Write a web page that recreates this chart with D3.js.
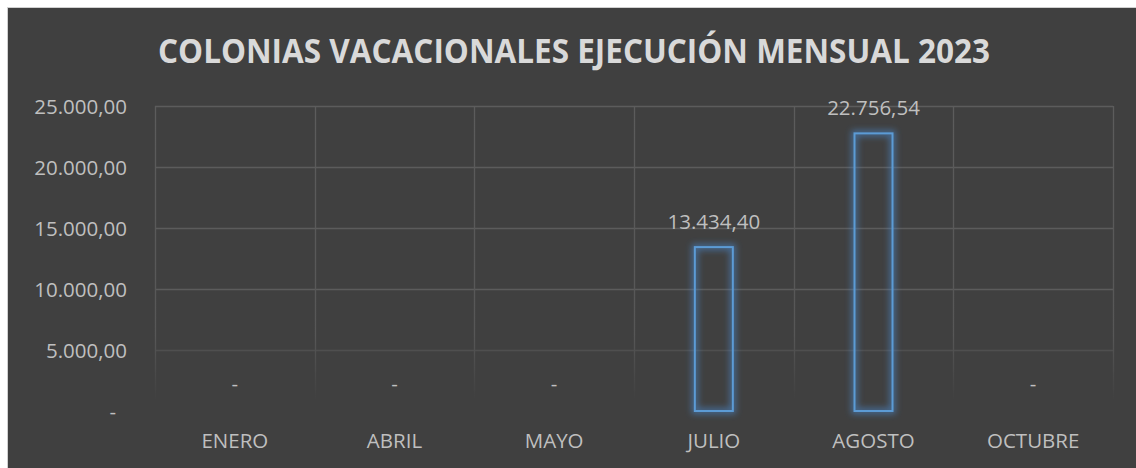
<!DOCTYPE html>
<html>
<head>
<meta charset="utf-8">
<script src="https://cdn.jsdelivr.net/npm/d3@7"></script>
<style>
  body { margin: 0; background: #ffffff; }
  svg { display: block; }
</style>
</head>
<body>
<div id="chart"></div>
<script>
// data
var months = ["ENERO", "ABRIL", "MAYO", "JULIO", "AGOSTO", "OCTUBRE"];
var amounts = [0, 0, 0, 13434.40, 22756.54, 0];
var yTicks = [0, 5000, 10000, 15000, 20000, 25000];
var title = "COLONIAS VACACIONALES EJECUCIÓN MENSUAL 2023";

var w = 1136, h = 468;
var plotL = 155, plotR = 1113, plotT = 106, plotB = 411;
var fontSize = "20.5px";

var svg = d3.select("#chart").append("svg")
    .attr("width", w)
    .attr("height", h);

var defs = svg.append("defs");
// soft blue glow round the bar outlines
var glow = defs.append("filter").attr("id", "glow")
    .attr("x", "-60%").attr("y", "-20%").attr("width", "220%").attr("height", "140%");
glow.append("feMorphology").attr("in", "SourceAlpha").attr("operator", "dilate").attr("radius", 2).attr("result", "fat");
glow.append("feGaussianBlur").attr("in", "fat").attr("stdDeviation", 3).attr("result", "blur");
glow.append("feFlood").attr("flood-color", "#4a8ad0").attr("flood-opacity", 0.6).attr("result", "col");
glow.append("feComposite").attr("in", "col").attr("in2", "blur").attr("operator", "in").attr("result", "soft");
var merge = glow.append("feMerge");
merge.append("feMergeNode").attr("in", "soft");
merge.append("feMergeNode").attr("in", "SourceGraphic");

var fade = defs.append("linearGradient").attr("id", "fade")
    .attr("gradientUnits", "userSpaceOnUse")
    .attr("x1", 0).attr("y1", plotT).attr("x2", 0).attr("y2", 400);
fade.append("stop").attr("offset", "0").attr("stop-color", "#5c5c5c");
fade.append("stop").attr("offset", "0.78").attr("stop-color", "#575757");
fade.append("stop").attr("offset", "1").attr("stop-color", "#404040");

// background
svg.append("rect")
    .attr("x", 7.5).attr("y", 7.5)
    .attr("width", w - 7).attr("height", h - 7)
    .attr("fill", "#404040")
    .attr("stroke", "#d0d0d0")
    .attr("stroke-width", 1);

var x = d3.scaleBand().domain(months).range([plotL, plotR]).paddingInner(0).paddingOuter(0);
var y = d3.scaleLinear().domain([0, 25000]).range([plotB, plotT]);

var fmt = function(v) {
    if (v === 0) return "-";
    var s = v.toFixed(2).split(".");
    return s[0].replace(/\B(?=(\d{3})+(?!\d))/g, ".") + "," + s[1];
};

// horizontal grid lines
svg.append("g").selectAll("line")
    .data(yTicks.filter(function(d) { return d > 0; }))
    .enter().append("line")
    .attr("x1", plotL).attr("x2", plotR)
    .attr("y1", function(d) { return Math.round(y(d)) + 0.5; })
    .attr("y2", function(d) { return Math.round(y(d)) + 0.5; })
    .attr("stroke", function(d) { return d === 5000 ? "#4f4f4f" : "#5c5c5c"; })
    .attr("stroke-width", 1.3);

// vertical grid lines (fade toward the bottom)
var edges = months.map(function(m) { return x(m); }).concat([plotR]);
svg.append("g").selectAll("line")
    .data(edges)
    .enter().append("line")
    .attr("x1", function(d) { return Math.round(d) + 0.5; })
    .attr("x2", function(d) { return Math.round(d) + 0.5; })
    .attr("y1", plotT).attr("y2", 400)
    .attr("stroke", "url(#fade)")
    .attr("stroke-width", 1.3);

// y axis labels
var yAxis = d3.axisLeft(y).tickValues(yTicks).tickSize(0).tickPadding(0).tickFormat(fmt);
var ya = svg.append("g").attr("transform", "translate(127,0)").call(yAxis);
ya.select(".domain").remove();
ya.selectAll("text")
    .attr("fill", "#bfbfbf")
    .style("font-family", "'Open Sans', sans-serif")
    .style("font-size", fontSize)
    .attr("dy", "0.36em")
    .attr("x", function(d) { return d === 0 ? -11 : 0; });

// x axis labels
var xAxis = d3.axisBottom(x).tickSize(0).tickPadding(0);
var xa = svg.append("g").attr("transform", "translate(0,448)").call(xAxis);
xa.select(".domain").remove();
xa.selectAll("text")
    .attr("fill", "#bfbfbf")
    .attr("dy", 0)
    .style("font-family", "'Open Sans', sans-serif")
    .style("font-size", fontSize);

// bars
var bw = 40;
svg.append("g").selectAll("rect")
    .data(amounts.map(function(v, i) { return {m: months[i], v: v}; }).filter(function(d) { return d.v > 0; }))
    .enter().append("rect")
    .attr("x", function(d) { return x(d.m) + x.bandwidth() / 2 - bw / 2 + 1; })
    .attr("y", function(d) { return y(d.v); })
    .attr("width", bw - 2)
    .attr("height", function(d) { return y(0) - y(d.v); })
    .attr("fill", "none")
    .attr("stroke", "#5b9bd5")
    .attr("stroke-width", 2)
    .attr("filter", "url(#glow)");

// data labels
svg.append("g").selectAll("text")
    .data(amounts.map(function(v, i) { return {m: months[i], v: v}; }))
    .enter().append("text")
    .attr("x", function(d) { return x(d.m) + x.bandwidth() / 2; })
    .attr("y", function(d) { return y(d.v) - (d.v === 0 ? 20 : 18); })
    .attr("text-anchor", "middle")
    .attr("fill", "#bfbfbf")
    .style("font-family", "'Open Sans', sans-serif")
    .style("font-size", fontSize)
    .text(function(d) { return fmt(d.v); });

// title
svg.append("text")
    .attr("x", 574).attr("y", 63)
    .attr("text-anchor", "middle")
    .attr("fill", "#d9d9d9")
    .attr("textLength", 832)
    .attr("lengthAdjust", "spacingAndGlyphs")
    .style("font-family", "'Open Sans', sans-serif")
    .style("font-weight", "bold")
    .style("font-size", "34px")
    .text(title);
</script>
</body>
</html>
